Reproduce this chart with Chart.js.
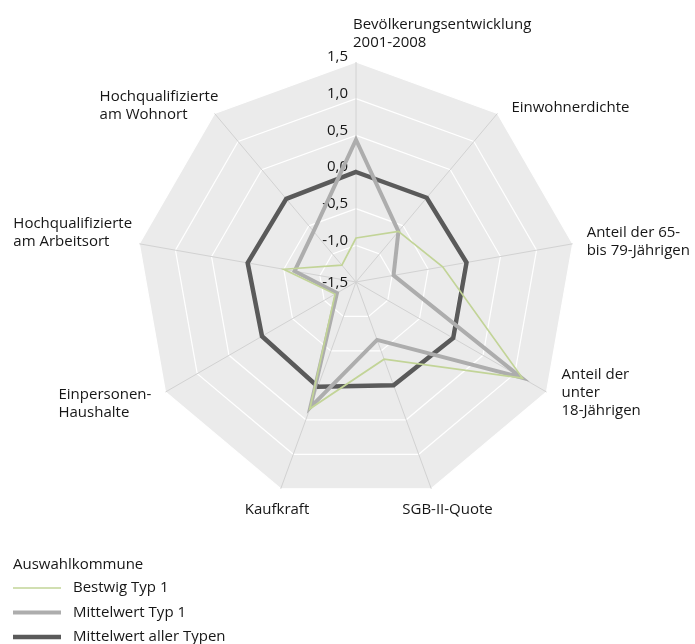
<!DOCTYPE html>
<html>
<head>
<meta charset="utf-8">
<script src="https://cdn.jsdelivr.net/npm/chart.js@4.4.1/dist/chart.umd.min.js"></script>
<style>
  body { margin: 0; background: #fff; }
  #wrap { width: 695px; height: 644px; position: relative; }
</style>
</head>
<body>
<div id="wrap"><canvas id="radarChart"></canvas></div>
<script>
  // Axes (clockwise from top)
  var categories = [
    ['Bevölkerungsentwicklung', '2001-2008'],
    'Einwohnerdichte',
    ['Anteil der 65-', 'bis 79-Jährigen'],
    ['Anteil der', 'unter', '18-Jährigen'],
    'SGB-II-Quote',
    'Kaufkraft',
    ['Einpersonen-', 'Haushalte'],
    ['Hochqualifizierte', 'am Arbeitsort'],
    ['Hochqualifizierte', 'am Wohnort']
  ];
  var bestwigTyp1 = [-0.9, -0.6, -0.3, 1.12, -0.38, 0.34, -1.17, -0.5, -1.2];
  var mittelwertTyp1 = [0.44, -0.6, -0.98, 1.1, -0.66, 0.32, -1.2, -0.65, -0.6];
  var mittelwertAlle = [0.0, 0.0, 0.03, 0.03, 0.0, 0.02, -0.02, 0.0, -0.02];
  var tickValues = [-1.5, -1.0, -0.5, 0.0, 0.5, 1.0, 1.5];
  var legendTitle = 'Auswahlkommune';

  var FONT = '15px "Open Sans", sans-serif';
  var TEXT = '#161616';

  // where each axis label sits relative to the end of its axis
  var labelPlace = [
    { dx: -3, dy: -37 },
    { dx: 14, dy: -6 },
    { dx: 14, dy: -11 },
    { dx: 15, dy: -17 },
    { dx: -29, dy: 21 },
    { dx: -36, dy: 21 },
    { dx: -107, dy: 3 },
    { dx: -126, dy: -20 },
    { dx: -115, dy: -17 }
  ];

  function fmt(v) {
    return v.toFixed(1).replace('.', ',');
  }

  // tick labels under the lines, left of the vertical axis
  var tickLabelPlugin = {
    id: 'tickLabels',
    beforeDatasetsDraw: function (chart) {
      var s = chart.scales.r;
      var c = chart.ctx;
      c.save();
      c.font = FONT;
      c.fillStyle = TEXT;
      c.textAlign = 'right';
      c.textBaseline = 'middle';
      tickValues.forEach(function (v) {
        var d = s.getDistanceFromCenterForValue(v);
        var off = d === 0 ? -1 : 5;
        c.fillText(fmt(v), s.xCenter - 8, s.yCenter - d - off);
      });
      c.restore();
    }
  };

  // axis labels + legend
  var labelPlugin = {
    id: 'axisLabels',
    afterDraw: function (chart) {
      var s = chart.scales.r;
      var c = chart.ctx;
      c.save();
      c.font = FONT;
      c.fillStyle = TEXT;
      c.textAlign = 'left';
      c.textBaseline = 'middle';
      chart.data.labels.forEach(function (lab, i) {
        var p = s.getPointPosition(i, s.drawingArea);
        var lines = Array.isArray(lab) ? lab : [lab];
        lines.forEach(function (t, j) {
          c.fillText(t, p.x + labelPlace[i].dx, p.y + labelPlace[i].dy + j * 18);
        });
      });

      // legend at bottom left
      var lx = 13, ly = 565;
      c.fillText(legendTitle, lx, ly);
      chart.data.datasets.forEach(function (ds, i) {
        var y = ly + 23 + i * 24.5;
        c.beginPath();
        c.strokeStyle = ds.borderColor;
        c.lineWidth = ds.borderWidth;
        c.moveTo(lx, y);
        c.lineTo(lx + 48, y);
        c.stroke();
        c.fillText(ds.label, lx + 60, y);
      });
      c.restore();
    }
  };

  var ctx = document.getElementById('radarChart').getContext('2d');
  var radarChart = new Chart(ctx, {
    type: 'radar',
    data: {
      labels: categories,
      datasets: [
        {
          label: 'Bestwig Typ 1',
          data: bestwigTyp1,
          borderColor: '#c2d497',
          borderWidth: 1.7,
          fill: false,
          pointRadius: 0,
          pointHoverRadius: 0
        },
        {
          label: 'Mittelwert Typ 1',
          data: mittelwertTyp1,
          borderColor: '#adadad',
          borderWidth: 4,
          fill: false,
          pointRadius: 0,
          pointHoverRadius: 0
        },
        {
          label: 'Mittelwert aller Typen',
          data: mittelwertAlle,
          borderColor: '#5a5a5a',
          borderWidth: 4.5,
          fill: false,
          pointRadius: 0,
          pointHoverRadius: 0
        }
      ]
    },
    options: {
      responsive: true,
      maintainAspectRatio: false,
      animation: false,
      layout: {
        padding: { left: 136, right: 119, top: 62, bottom: 142 }
      },
      elements: { line: { tension: 0, borderJoinStyle: 'miter' } },
      scales: {
        r: {
          min: -1.5,
          max: 1.5,
          backgroundColor: '#ebebeb',
          ticks: { display: false, stepSize: 0.5 },
          grid: { color: '#ffffff', lineWidth: 1.2 },
          angleLines: { color: '#d2d2d2', lineWidth: 1 },
          pointLabels: { display: false }
        }
      },
      plugins: {
        legend: { display: false },
        tooltip: { enabled: false }
      }
    },
    plugins: [tickLabelPlugin, labelPlugin]
  });
</script>
</body>
</html>
